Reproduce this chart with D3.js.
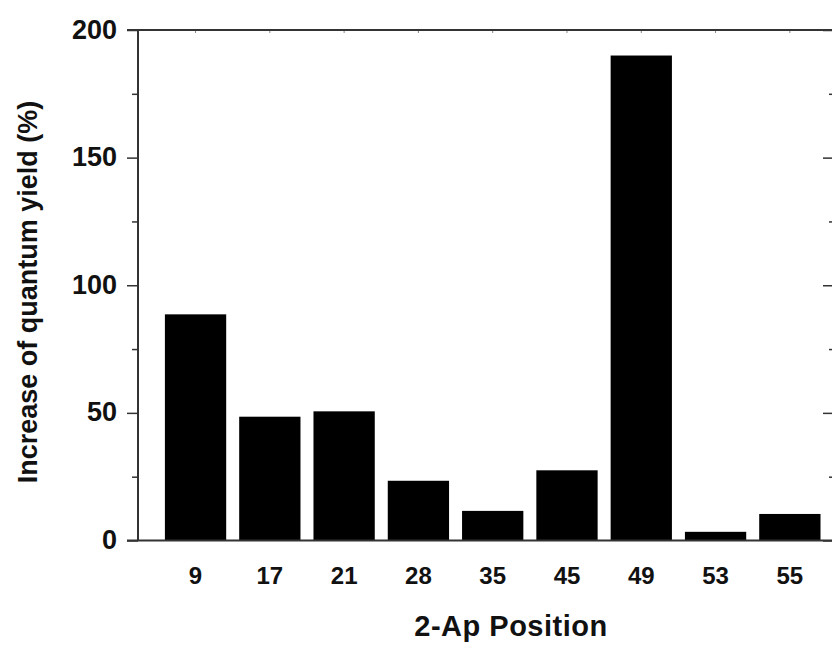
<!DOCTYPE html>
<html>
<head>
<meta charset="utf-8">
<script src="https://cdn.jsdelivr.net/npm/d3@7"></script>
<style>
  body { margin: 0; background: #fff; }
  svg { display: block; font-family: "Liberation Sans", Arial, sans-serif; }
</style>
</head>
<body>
<svg id="chart" width="832" height="648"></svg>
<script>
// data
const positions = ["9", "17", "21", "28", "35", "45", "49", "53", "55"];
const increase = [88.6, 48.5, 50.6, 23.4, 11.6, 27.5, 190, 3.4, 10.4];
const yTicks = [0, 50, 100, 150, 200];
const yMinorTicks = [25, 75, 125, 175];

const svg = d3.select("#chart");
const plotLeft = 138, plotRight = 834, plotTop = 30, plotBottom = 540.5;

const x = d3.scaleBand()
  .domain(positions)
  .range([158.4, 827])
  .paddingInner(0.175)
  .paddingOuter(0.0875);

const y = d3.scaleLinear().domain([0, 200]).range([plotBottom, plotTop]);

// bars
svg.append("g").selectAll("rect")
  .data(positions)
  .enter().append("rect")
    .attr("x", d => x(d))
    .attr("y", (d, i) => y(increase[i]))
    .attr("width", x.bandwidth())
    .attr("height", (d, i) => plotBottom - y(increase[i]))
    .attr("fill", "#000");

const axisColor = "#333";

// left axis
const yAxis = svg.append("g")
  .attr("transform", `translate(${plotLeft},0)`)
  .call(d3.axisLeft(y).tickValues(yTicks).tickSize(11).tickPadding(10));
yAxis.select(".domain").remove();
yAxis.selectAll("line").attr("stroke", axisColor).attr("stroke-width", 1.5);
yAxis.selectAll("text")
  .attr("font-size", 27).attr("font-weight", "bold").attr("fill", "#111")
  .attr("dy", "0.3em");

const yMinor = svg.append("g")
  .attr("transform", `translate(${plotLeft},0)`)
  .call(d3.axisLeft(y).tickValues(yMinorTicks).tickSize(6).tickFormat(""));
yMinor.select(".domain").remove();
yMinor.selectAll("line").attr("stroke", axisColor).attr("stroke-width", 1.5);

// right axis, inward ticks
const yRight = svg.append("g")
  .attr("transform", `translate(${plotRight},0)`)
  .call(d3.axisRight(y).tickValues(yTicks).tickSize(-11).tickFormat(""));
yRight.select(".domain").remove();
yRight.selectAll("line").attr("stroke", axisColor).attr("stroke-width", 1.5);
const yRightMinor = svg.append("g")
  .attr("transform", `translate(${plotRight},0)`)
  .call(d3.axisRight(y).tickValues(yMinorTicks).tickSize(-5).tickFormat(""));
yRightMinor.select(".domain").remove();
yRightMinor.selectAll("line").attr("stroke", axisColor).attr("stroke-width", 1.5);

// bottom axis labels
const xAxis = svg.append("g")
  .attr("transform", `translate(0,${plotBottom})`)
  .call(d3.axisBottom(x).tickSize(0).tickPadding(26));
xAxis.select(".domain").remove();
xAxis.selectAll("text")
  .attr("font-size", 24).attr("font-weight", "bold").attr("fill", "#111");

// top axis small ticks at bar centres
const xTop = svg.append("g")
  .attr("transform", `translate(0,${plotTop})`)
  .call(d3.axisBottom(x).tickSize(3).tickFormat(""));
xTop.select(".domain").remove();
xTop.selectAll("line").attr("stroke", "#888");

// frame lines
svg.append("line").attr("x1", plotLeft).attr("x2", plotLeft).attr("y1", plotTop).attr("y2", plotBottom)
  .attr("stroke", axisColor).attr("stroke-width", 2);
svg.append("line").attr("x1", plotLeft - 11).attr("x2", plotRight).attr("y1", plotTop).attr("y2", plotTop)
  .attr("stroke", axisColor).attr("stroke-width", 2);
svg.append("line").attr("x1", plotLeft - 11).attr("x2", plotRight).attr("y1", plotBottom).attr("y2", plotBottom)
  .attr("stroke", axisColor).attr("stroke-width", 2);
svg.append("line").attr("x1", plotRight).attr("x2", plotRight).attr("y1", plotTop).attr("y2", plotBottom)
  .attr("stroke", axisColor).attr("stroke-width", 2);

// axis titles
svg.append("text")
  .attr("x", 511).attr("y", 636)
  .attr("text-anchor", "middle")
  .attr("font-size", 29).attr("font-weight", "bold").attr("fill", "#111")
  .attr("letter-spacing", 0.5)
  .text("2-Ap Position");

svg.append("text")
  .attr("transform", `translate(37,292) rotate(-90)`)
  .attr("text-anchor", "middle")
  .attr("font-size", 27).attr("font-weight", "bold").attr("fill", "#111")
  .text("Increase of quantum yield (%)");
</script>
</body>
</html>
